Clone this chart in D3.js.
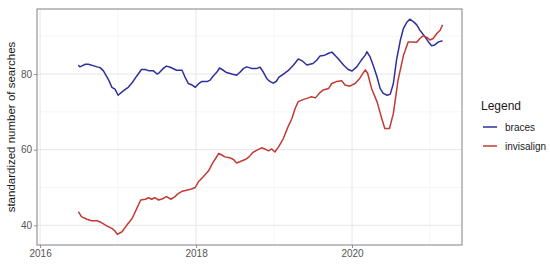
<!DOCTYPE html>
<html>
<head>
<meta charset="utf-8">
<script src="https://cdn.jsdelivr.net/npm/d3@7"></script>
<style>
  html, body { margin: 0; padding: 0; background: #fff; }
  svg { display: block; font-family: "Liberation Sans", Arial, sans-serif; }
</style>
</head>
<body>
<svg id="chart" width="550" height="265"></svg>
<script>
// ---- data (decimal year, standardized searches) ----
const seriesNames = ["braces", "invisalign"];
const bracesYears = [2016.49,2016.51,2016.58,2016.62,2016.73,2016.77,2016.81,2016.88,2016.92,2016.96,2017.00,2017.07,2017.13,2017.18,2017.24,2017.30,2017.35,2017.39,2017.45,2017.50,2017.53,2017.58,2017.62,2017.67,2017.71,2017.75,2017.82,2017.86,2017.90,2017.95,2017.99,2018.03,2018.07,2018.14,2018.18,2018.22,2018.27,2018.30,2018.35,2018.39,2018.46,2018.52,2018.56,2018.61,2018.65,2018.71,2018.78,2018.82,2018.86,2018.91,2018.95,2018.99,2019.03,2019.06,2019.12,2019.18,2019.25,2019.31,2019.36,2019.42,2019.46,2019.50,2019.55,2019.59,2019.65,2019.70,2019.74,2019.78,2019.82,2019.89,2019.95,2020.00,2020.06,2020.12,2020.17,2020.19,2020.23,2020.27,2020.32,2020.36,2020.40,2020.45,2020.49,2020.53,2020.57,2020.62,2020.66,2020.70,2020.74,2020.79,2020.83,2020.87,2020.92,2020.98,2021.02,2021.06,2021.11,2021.16];
const bracesValues = [82.4,81.9,82.6,82.6,81.9,81.7,80.9,78.4,76.5,76.0,74.4,75.6,76.5,77.7,79.5,81.2,81.2,80.9,80.9,80.0,80.4,81.5,82.1,81.8,81.4,81.0,81.0,79.1,77.5,77.1,76.5,77.4,78.0,78.0,78.4,79.5,80.6,81.6,81.0,80.4,80.0,79.7,80.4,81.5,81.9,81.5,81.5,81.8,80.6,78.7,78.0,77.6,78.1,79.1,80.0,80.9,82.4,84.0,83.5,82.4,82.6,82.8,83.7,84.8,85.0,85.5,85.8,85.0,84.1,82.4,81.2,80.8,81.9,83.7,85.0,85.9,84.6,82.4,79.3,76.2,74.9,74.4,74.7,77.5,83.7,89.0,92.1,93.6,94.5,93.8,93.0,91.6,90.3,88.5,87.5,87.7,88.5,88.8];
const invisalignYears = [2016.49,2016.53,2016.60,2016.66,2016.73,2016.77,2016.86,2016.92,2016.96,2016.99,2017.05,2017.11,2017.18,2017.24,2017.29,2017.35,2017.39,2017.43,2017.47,2017.52,2017.58,2017.62,2017.68,2017.73,2017.77,2017.82,2017.88,2017.94,2017.99,2018.03,2018.09,2018.16,2018.21,2018.26,2018.29,2018.33,2018.37,2018.43,2018.48,2018.52,2018.56,2018.63,2018.68,2018.73,2018.78,2018.84,2018.88,2018.93,2018.97,2019.01,2019.06,2019.12,2019.18,2019.23,2019.27,2019.31,2019.38,2019.44,2019.48,2019.53,2019.59,2019.63,2019.70,2019.74,2019.80,2019.87,2019.91,2019.97,2020.04,2020.10,2020.17,2020.20,2020.25,2020.32,2020.38,2020.42,2020.48,2020.53,2020.59,2020.66,2020.72,2020.77,2020.83,2020.87,2020.91,2020.96,2021.00,2021.04,2021.09,2021.13,2021.16];
const invisalignValues = [43.6,42.3,41.6,41.2,41.2,40.9,39.8,39.2,38.5,37.6,38.3,40.0,41.8,44.5,46.7,46.9,47.3,46.9,47.3,46.7,47.1,47.6,46.9,47.6,48.4,49.0,49.3,49.6,50.0,51.5,52.8,54.4,56.4,58.0,59.0,58.6,58.1,57.9,57.4,56.5,56.8,57.4,58.1,59.3,59.9,60.5,60.2,59.7,60.2,59.4,60.8,63.0,66.1,68.3,70.9,72.7,73.3,73.7,74.0,73.7,75.1,75.8,76.2,77.5,78.0,78.2,77.1,76.8,77.5,78.9,81.1,80.2,76.2,72.7,68.3,65.6,65.6,69.6,78.4,85.0,88.5,88.5,88.4,89.4,90.1,89.7,89.0,89.4,90.8,91.6,93.0];
const xTickLabels = [2016, 2018, 2020];
const xMinorTicks = [2017, 2019, 2021];
const yTickLabels = [40, 60, 80];
const yMinorTicks = [50, 70, 90];
const colors = ["#2f2f9e", "#c23a33"];

// ---- layout ----
const svg = d3.select("#chart");
const panel = { left: 37, top: 9, right: 462, bottom: 245 };

const x = d3.scaleLinear().domain([2015.96, 2021.41]).range([panel.left, panel.right]);
const y = d3.scaleLinear().domain([34.8, 97.2]).range([panel.bottom, panel.top]);

// grid
const g = svg.append("g");
g.selectAll(".ymin").data(yMinorTicks).join("line")
  .attr("x1", panel.left).attr("x2", panel.right)
  .attr("y1", d => y(d)).attr("y2", d => y(d))
  .attr("stroke", "#f2f2f2").attr("stroke-width", 0.8);
g.selectAll(".xmin").data(xMinorTicks).join("line")
  .attr("y1", panel.top).attr("y2", panel.bottom)
  .attr("x1", d => x(d)).attr("x2", d => x(d))
  .attr("stroke", "#f2f2f2").attr("stroke-width", 0.8);
g.selectAll(".ymaj").data(yTickLabels).join("line")
  .attr("x1", panel.left).attr("x2", panel.right)
  .attr("y1", d => y(d)).attr("y2", d => y(d))
  .attr("stroke", "#e6e6e6").attr("stroke-width", 1);
g.selectAll(".xmaj").data(xTickLabels).join("line")
  .attr("y1", panel.top).attr("y2", panel.bottom)
  .attr("x1", d => x(d)).attr("x2", d => x(d))
  .attr("stroke", "#e6e6e6").attr("stroke-width", 1);

// lines
const series = [
  { name: seriesNames[0], years: bracesYears, values: bracesValues, color: colors[0] },
  { name: seriesNames[1], years: invisalignYears, values: invisalignValues, color: colors[1] }
];
const line = d3.line().x(d => x(d[0])).y(d => y(d[1]));
series.forEach(s => {
  svg.append("path")
    .datum(s.years.map((yr, i) => [yr, s.values[i]]))
    .attr("d", line)
    .attr("fill", "none")
    .attr("stroke", s.color)
    .attr("stroke-width", 1.5)
    .attr("stroke-linejoin", "round");
});

// panel border
svg.append("rect")
  .attr("x", panel.left).attr("y", panel.top)
  .attr("width", panel.right - panel.left).attr("height", panel.bottom - panel.top)
  .attr("fill", "none").attr("stroke", "#8c8c8c").attr("stroke-width", 1.1);

// axes
const xAxis = d3.axisBottom(x).tickValues(xTickLabels).tickFormat(d3.format("d")).tickSize(3).tickPadding(2);
const yAxis = d3.axisLeft(y).tickValues(yTickLabels).tickFormat(d3.format("d")).tickSize(3).tickPadding(2);
const gx = svg.append("g").attr("transform", `translate(0,${panel.bottom})`).call(xAxis);
const gy = svg.append("g").attr("transform", `translate(${panel.left},0)`).call(yAxis);
[gx, gy].forEach(a => {
  a.select(".domain").remove();
  a.selectAll(".tick line").attr("stroke", "#8c8c8c");
  a.selectAll(".tick text").attr("fill", "#555").style("font-size", "10px")
    .style("font-family", "'Liberation Sans', Arial, sans-serif");
});

// y title
svg.append("text")
  .attr("transform", `translate(15,${(panel.top + panel.bottom) / 2}) rotate(-90)`)
  .attr("text-anchor", "middle")
  .style("font-size", "11.5px")
  .attr("fill", "#1a1a1a")
  .text("standardized number of searches");

// legend
const lg = svg.append("g").attr("transform", "translate(481,0)");
lg.append("text").attr("x", 0).attr("y", 110).style("font-size", "12px").attr("fill", "#1a1a1a").text("Legend");
series.forEach((s, i) => {
  const cy = 127 + i * 19;
  lg.append("line").attr("x1", 2).attr("x2", 16).attr("y1", cy).attr("y2", cy)
    .attr("stroke", s.color).attr("stroke-width", 1.5);
  lg.append("text").attr("x", 24).attr("y", cy + 3.5).style("font-size", "10px").attr("fill", "#1a1a1a").text(s.name);
});
</script>
</body>
</html>
